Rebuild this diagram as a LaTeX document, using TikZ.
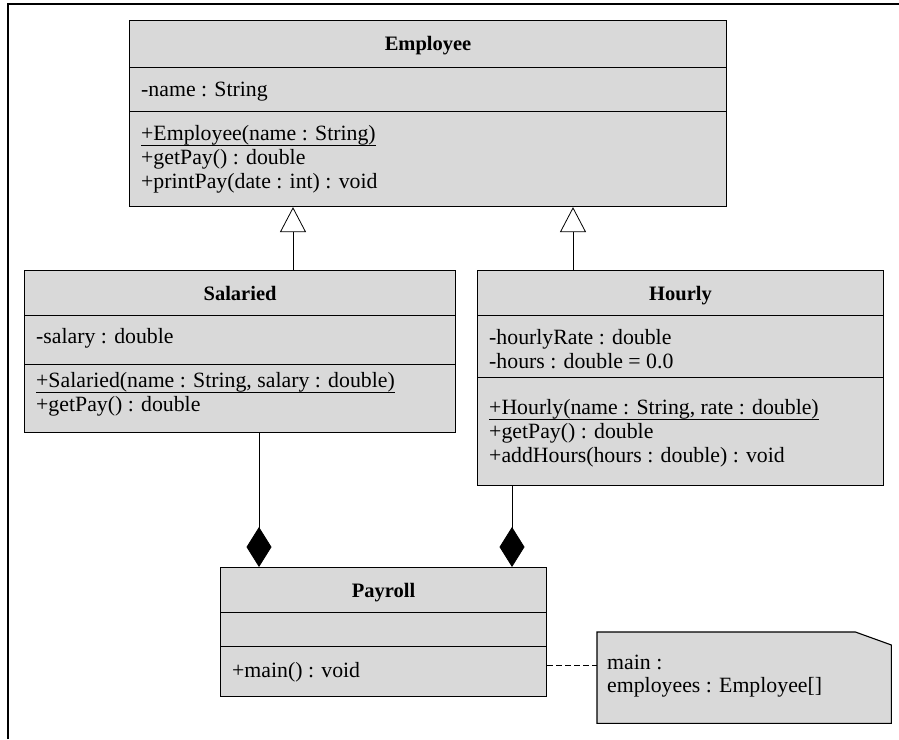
\documentclass[tikz,border=0pt]{standalone}
\usepackage{fontspec}
\setmainfont{Liberation Serif}
\usetikzlibrary{arrows.meta, positioning, calc}
\definecolor{umlgray}{RGB}{217,217,217}
\newcommand{\ctor}[1]{\underline{\raisebox{0pt}[\height][4pt]{#1}}}

\begin{document}
\begin{tikzpicture}[
  x=1pt, y=-1pt,
  every node/.style={font=\fontsize{21.8}{24}\selectfont},
  classbox/.style={draw, fill=umlgray, anchor=north west, inner sep=0pt, line width=1.1pt},
  title/.style={anchor=base, inner sep=0pt, font=\fontsize{20.5}{24}\selectfont\bfseries},
  member/.style={anchor=base west, inner sep=0pt},
  generalize/.style={-{Triangle[open, length=25pt, width=26pt]}, line width=0.8pt},
  compose/.style={-{Diamond[length=40pt, width=25pt]}, line width=0.8pt},
  >=Stealth
]

\useasboundingbox (0,0) rectangle (899,739);
\draw[line width=1.2pt] (8,739) -- (8,4) -- (899,4);

% Employee
\node[classbox, minimum width=597pt, minimum height=186pt] (emp) at (129,20) {};
\draw (emp.west |- 0,67) -- (emp.east |- 0,67);
\draw (emp.west |- 0,111) -- (emp.east |- 0,111);
\node[title] (emp-t) at (emp.north |- 0,50) {Employee};
\node[member] (emp-a1) at (141,96) {-name : String};
\node[member] (emp-o1) at (141,140) {\ctor{+Employee(name : String)}};
\node[member] (emp-o2) at (141,164) {+getPay() : double};
\node[member] (emp-o3) at (141,188) {+printPay(date : int) : void};

% Salaried
\node[classbox, minimum width=431pt, minimum height=162pt] (sal) at (24,270) {};
\draw (sal.west |- 0,315) -- (sal.east |- 0,315);
\draw (sal.west |- 0,364) -- (sal.east |- 0,364);
\node[title] (sal-t) at (sal.north |- 0,300) {Salaried};
\node[member] (sal-a1) at (36,343) {-salary : double};
\node[member] (sal-o1) at (36,387) {\ctor{+Salaried(name : String, salary : double)}};
\node[member] (sal-o2) at (36,411) {+getPay() : double};

% Hourly
\node[classbox, minimum width=406pt, minimum height=215pt] (hrl) at (477,270) {};
\draw (hrl.west |- 0,315) -- (hrl.east |- 0,315);
\draw (hrl.west |- 0,377) -- (hrl.east |- 0,377);
\node[title] (hrl-t) at (hrl.north |- 0,300) {Hourly};
\node[member] (hrl-a1) at (489,344) {-hourlyRate : double};
\node[member] (hrl-a2) at (489,368) {-hours : double = 0.0};
\node[member] (hrl-o1) at (489,414) {\ctor{+Hourly(name : String, rate : double)}};
\node[member] (hrl-o2) at (489,438) {+getPay() : double};
\node[member] (hrl-o3) at (489,462) {+addHours(hours : double) : void};

% Payroll
\node[classbox, minimum width=326pt, minimum height=129pt] (pay) at (220,567) {};
\draw (pay.west |- 0,612) -- (pay.east |- 0,612);
\draw (pay.west |- 0,646) -- (pay.east |- 0,646);
\node[title] (pay-t) at (pay.north |- 0,597) {Payroll};
\node[member] (pay-o1) at (232,677) {+main() : void};

% note
\node[inner sep=0pt, minimum width=294pt, minimum height=91pt, anchor=north west] (note) at (597,632) {};
\draw[fill=umlgray, line width=1.1pt] (note.north west) -- ($(note.north east)+(-36,0)$)
  -- ($(note.north east)+(0,13)$) -- (note.south east) -- (note.south west) -- cycle;
\node[member] (note-1) at (607,669) {main :};
\node[member] (note-2) at (607,692) {employees : Employee[]};

% relations
\draw[generalize] (sal.north -| 293,0) -- (emp.south -| 293,0);
\draw[generalize] (hrl.north -| 573,0) -- (emp.south -| 573,0);
\draw[compose] (sal.south -| 259,0) -- (pay.north -| 259,0);
\draw[compose] (hrl.south -| 512,0) -- (pay.north -| 512,0);
\draw[dash pattern=on 6pt off 3pt] (pay.east |- 0,665) -- (note.west |- 0,665);

\end{tikzpicture}
\end{document}
